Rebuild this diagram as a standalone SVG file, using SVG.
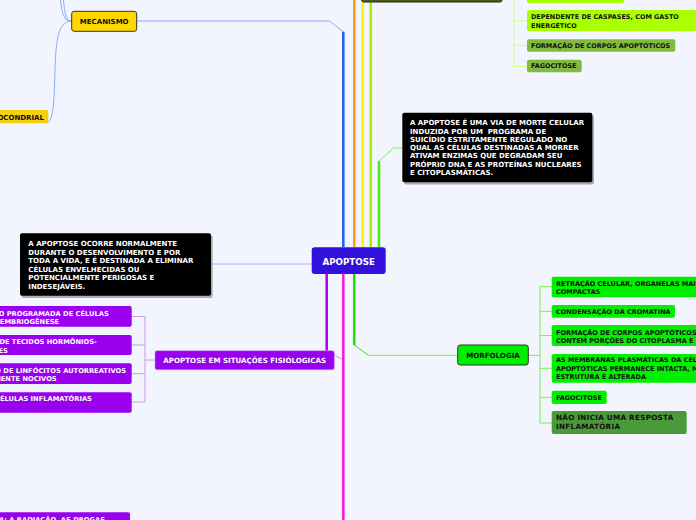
<svg xmlns="http://www.w3.org/2000/svg" width="696" height="520" viewBox="0 0 696 520">
<style>
  .t{font-family:"DejaVu Sans","Verdana",sans-serif;font-weight:bold;font-size:6.7px;}
  .s645{font-size:6.45px;}
  .s65{font-size:6.5px;}
  .s70{font-size:7px;}
  .s71{font-size:7.1px;}
  .s72{font-size:7.2px;}
  .s87{font-size:8.7px;}
  .w{fill:#ffffff;}
  .k{fill:#111111;}
  .thin{fill:none;stroke-width:1;}
  .thick{fill:none;stroke-width:2.5;}
  .box{fill:#000000;}
  .shadow{fill:#9a9a9a;opacity:0.8;}
  .gold{fill:#ffd700;stroke:#333333;stroke-width:1;}
  .lime{fill:#00f000;}
  .purple{fill:#9900ee;}
  .yg{fill:#aaff00;}
  .olive{fill:#80bb40;}
</style>
<rect x="0" y="0" width="696" height="520" fill="#f2f5fd"/>

<g id="connectors">
  <path class="thin" stroke="#88aaff" d="M137,21 L329.5,21 L343.3,31.7"/>
  <path class="thick" stroke="#1a5cff" d="M343.3,31.7 L343.3,247"/>
  <path class="thin" stroke="#88aaff" d="M71,21 C64,21 62,14 60.5,0"/>
  <path class="thin" stroke="#88aaff" d="M71,21 C66,21 64.5,12 63.5,0"/>
  <path class="thin" stroke="#88aaff" d="M71,21 C58,22 56,40 55,70 C54,100 54,123 46,123"/>
  <path class="thick" stroke="#ff9922" d="M354.3,0 L354.3,247"/>
  <path class="thick" stroke="#ffee00" d="M362.7,0 L362.7,247"/>
  <path class="thick" stroke="#aaee00" d="M370.8,0 L370.8,247"/>
  <path class="thin" stroke="#ccff88" stroke-width="1.3" d="M514,0 L514,66.5 M514,20.7 L527,20.7 M514,45.3 L527,45.3 M514,66.5 L527,66.5"/>
  <path class="thick" stroke="#44ee11" d="M379,247 L379,161"/>
  <path class="thin" stroke="#88ee55" stroke-width="1.2" d="M379,161 L393.5,148 L402,148"/>
  <path class="thin" stroke="#aaaaff" stroke-width="1.2" d="M211,264 L312,264"/>
  <path class="thick" stroke="#aa00ee" d="M326.7,274 L326.7,351"/>
  <path class="thick" stroke="#ff11dd" d="M343.3,274 L343.3,520"/>
  <path class="thin" stroke="#cc88ff" d="M334.3,355 L342,359.3"/>
  <path class="thin" stroke="#cc99ee" stroke-width="1.2" d="M155,360 L145,360 M145,316.5 L145,402 M131.7,316.5 L145,316.5 M131.7,345 L145,345 M131.7,373.7 L145,373.7 M131.7,402 L145,402"/>
  <path class="thick" stroke="#22dd00" d="M354.2,274 L354.2,345"/>
  <path class="thin" stroke="#44dd22" stroke-width="1.4" d="M354.2,345 L368.5,355.3"/>
  <path class="thin" stroke="#77ee55" stroke-width="1.2" d="M368.5,355.3 L457.7,355.3"/>
  <path class="thin" stroke="#77ee55" stroke-width="1.2" d="M528.3,355.3 L540,355.3 M540,286.7 L540,423 M540,286.7 L551.7,286.7 M540,311.3 L551.7,311.3 M540,335.5 L551.7,335.5 M540,368.3 L551.7,368.3 M540,397.3 L551.7,397.3 M540,423 L551.7,423"/>
</g>

<g id="apoptose">
  <rect x="311.7" y="247.3" width="74" height="26.7" rx="3" fill="#3311dd"/>
  <text class="t s87 w" x="348.7" y="265.3" text-anchor="middle">APOPTOSE</text>
</g>

<g id="mecanismo">
  <rect x="71.7" y="11.3" width="65" height="20" rx="2.5" class="gold"/>
  <text class="t s70 k" x="104.2" y="24.1" text-anchor="middle">MECANISMO</text>
</g>

<g id="mitocondrial">
  <rect x="-10" y="110" width="58.3" height="13.3" rx="2" fill="#f5cf10"/>
  <text class="t s70 k" x="44" y="119.5" text-anchor="end">MITOCONDRIAL</text>
</g>

<g id="top-dark">
  <rect x="361.7" y="-20" width="140.3" height="22" rx="2" fill="#4d5e14" stroke="#222222" stroke-width="1"/>
</g>

<g id="top-n1">
  <rect x="527" y="-16" width="97" height="19.3" rx="2" class="yg"/>
</g>
<g id="top-n2">
  <rect x="527" y="10" width="180" height="21.3" rx="2" class="yg"/>
  <text class="t s645 k" x="531" y="19.4">DEPENDENTE DE CASPASES, COM GASTO</text>
  <text class="t s645 k" x="531" y="27.7">ENERGÉTICO</text>
</g>
<g id="top-n3">
  <rect x="527" y="39.3" width="148.3" height="12.4" rx="2" class="olive"/>
  <text class="t s645 k" x="531" y="47.8">FORMAÇÃO DE CORPOS APOPTÓTICOS</text>
</g>
<g id="top-n4">
  <rect x="527" y="59.7" width="54.7" height="12.6" rx="2" class="olive"/>
  <text class="t s645 k" x="531" y="68.4">FAGOCITÓSE</text>
</g>

<g id="definicao">
  <rect x="404" y="115" width="190" height="69.6" rx="2" class="shadow"/>
  <rect x="402.3" y="112.7" width="190" height="69.6" rx="2" class="box"/>
  <text class="t s70 w" x="410" y="125.2">A APOPTOSE É UMA VIA DE MORTE CELULAR</text>
  <text class="t s70 w" x="410" y="133.5" xml:space="preserve">INDUZIDA POR UM  PROGRAMA DE</text>
  <text class="t s70 w" x="410" y="141.8">SUICÍDIO ESTRITAMENTE REGULADO NO</text>
  <text class="t s70 w" x="410" y="150.1">QUAL AS CÉLULAS DESTINADAS A MORRER</text>
  <text class="t s70 w" x="410" y="158.4">ATIVAM ENZIMAS QUE DEGRADAM SEU</text>
  <text class="t s70 w" x="410" y="166.7">PRÓPRIO DNA E AS PROTEÍNAS NUCLEARES</text>
  <text class="t s70 w" x="410" y="175">E CITOPLASMÁTICAS.</text>
</g>

<g id="ocorrencia">
  <rect x="21.7" y="235.5" width="191" height="62.4" rx="2" class="shadow"/>
  <rect x="20" y="233.3" width="191" height="62.4" rx="2" class="box"/>
  <text class="t s70 w" x="28.3" y="246">A APOPTOSE OCORRE NORMALMENTE</text>
  <text class="t s70 w" x="28.3" y="254.5">DURANTE O DESENVOLVIMENTO E POR</text>
  <text class="t s70 w" x="28.3" y="263">TODA A VIDA, E É DESTINADA A ELIMINAR</text>
  <text class="t s70 w" x="28.3" y="271.5">CÉLULAS ENVELHECIDAS OU</text>
  <text class="t s70 w" x="28.3" y="280">POTENCIALMENTE PERIGOSAS E</text>
  <text class="t s70 w" x="28.3" y="288.5">INDESEJÁVEIS.</text>
</g>

<g id="fisiologicas">
  <rect x="155" y="350.7" width="179.3" height="19" rx="2" class="purple" stroke="#cc88ff" stroke-width="0.6"/>
  <text class="t s71 w" x="244.7" y="362.9" text-anchor="middle">APOPTOSE EM SITUAÇÕES FISIÓLOGICAS</text>
</g>
<g id="fis-1">
  <rect x="-10" y="306" width="141.7" height="20.7" rx="2" class="purple"/>
  <text class="t w" x="-44" y="315.8">DESTRUIÇÃO PROGRAMADA DE CÉLULAS</text>
  <text class="t w" x="-46" y="324.1">DURANTE A EMBRIOGÊNESE</text>
</g>
<g id="fis-2">
  <rect x="-10" y="335" width="141.7" height="20" rx="2" class="purple"/>
  <text class="t w" x="-47" y="344.4">INVOLUÇÃO DE TECIDOS HORMÔNIOS-</text>
  <text class="t w" x="-47" y="352.7">DEPENDENTES</text>
</g>
<g id="fis-3">
  <rect x="-10" y="363.3" width="141.7" height="20.7" rx="2" class="purple"/>
  <text class="t w" x="-46" y="372.8">ELIMINAÇÃO DE LINFÓCITOS AUTORREATIVOS</text>
  <text class="t w" x="-48" y="381.1">POTENCIALMENTE NOCIVOS</text>
</g>
<g id="fis-4">
  <rect x="-10" y="392.3" width="141.7" height="20.4" rx="2" class="purple"/>
  <text class="t w" x="-46" y="400.8">MORTE DE CÉLULAS INFLAMATÓRIAS</text>
</g>

<g id="patologicas">
  <rect x="-10" y="512.3" width="140" height="20" rx="2" class="purple"/>
  <text class="t w" x="-1" y="521.8">A: A RADIAÇÃO, AS DROGAS</text>
</g>

<g id="morfologia">
  <rect x="457.7" y="345" width="70.6" height="20" rx="2.5" fill="#00ee00" stroke="#333333" stroke-width="1"/>
  <text class="t s71 k" x="493" y="357.7" text-anchor="middle">MORFOLOGIA</text>
</g>
<g id="morf-1">
  <rect x="551.7" y="276.7" width="160" height="20.6" rx="2" class="lime"/>
  <text class="t s65 k" x="556" y="285.8">RETRAÇÃO CELULAR, ORGANELAS MAIS</text>
  <text class="t s65 k" x="556" y="294.1">COMPACTAS</text>
</g>
<g id="morf-2">
  <rect x="551.7" y="305" width="123.3" height="12.7" rx="2" class="lime"/>
  <text class="t s65 k" x="556" y="314.3">CONDENSAÇÃO DA CROMATINA</text>
</g>
<g id="morf-3">
  <rect x="551.7" y="325" width="160" height="21" rx="2" class="lime"/>
  <text class="t s65 k" x="556" y="335">FORMAÇÃO DE CORPOS APOPTÓTICOS</text>
  <text class="t s65 k" x="556" y="343.3">CONTEM PORÇÕES DO CITOPLASMA E NÚCLEO</text>
</g>
<g id="morf-4">
  <rect x="551.7" y="354" width="160" height="28.7" rx="2" class="lime"/>
  <text class="t s65 k" x="556" y="362.4">AS MEMBRANAS PLASMÁTICAS DA CÉLULAS</text>
  <text class="t s65 k" x="556" y="370.7">APOPTÓTICAS PERMANECE INTACTA, MAS</text>
  <text class="t s65 k" x="556" y="379">ESTRUTURA É ALTERADA</text>
</g>
<g id="morf-5">
  <rect x="551.7" y="390.7" width="55" height="13.3" rx="2" class="lime"/>
  <text class="t s65 k" x="556" y="399.6">FAGOCITOSE</text>
</g>
<g id="morf-6">
  <rect x="551.7" y="411" width="135" height="23" rx="2" fill="#4a9a3a"/>
  <text class="t s72 k" x="556" y="420" letter-spacing="0.3">NÃO INICIA UMA RESPOSTA</text>
  <text class="t s72 k" x="556" y="429.2" letter-spacing="0.3">INFLAMATÓRIA</text>
</g>
</svg>
